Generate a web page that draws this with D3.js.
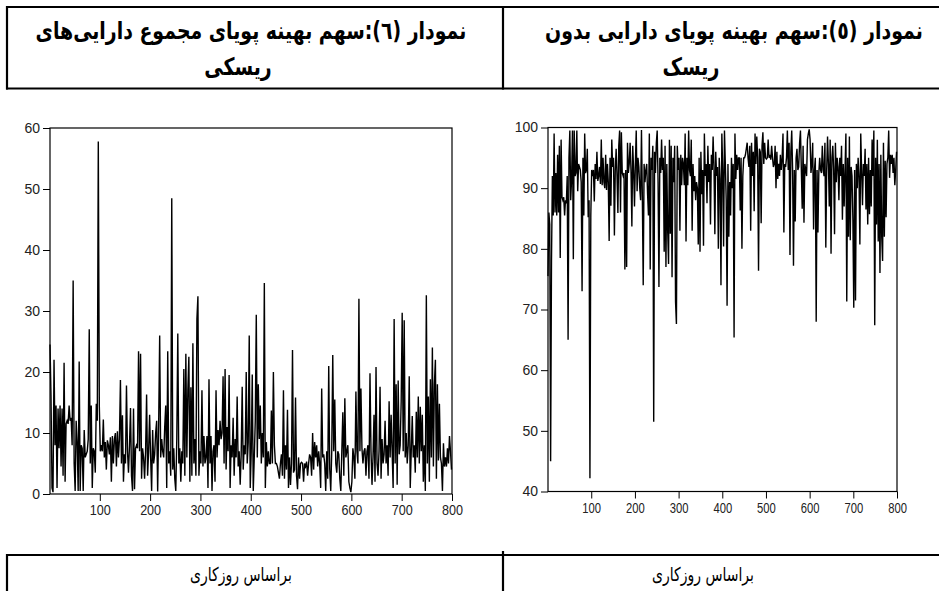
<!DOCTYPE html>
<html>
<head>
<meta charset="utf-8">
<script src="https://cdn.jsdelivr.net/npm/d3@7"></script>
<style>
  body { margin: 0; background: #fff; }
  .tick text { font-family: "Liberation Sans", Arial, sans-serif; fill: #222; }
  .fa { font-family: "DejaVu Sans", "Noto Sans", sans-serif; direction: rtl; }
</style>
</head>
<body>
<div id="chart"></div>
<script>
var svgWidth = 939;
var svgHeight = 591;

// observation numbers (every other trading day)
var days = d3.range(1, 800, 2);

// chart 6: dynamic optimal share of total risky assets (%)
var riskyShare = [
  24.5, 16, 1, 0.3, 22, 8, 14.5, 1, 14, 7.5,
  14.5, 4.5, 14, 3, 21.5, 2, 11.5, 12, 11.5, 14.5,
  12, 12.5, 8, 35, 5, 0.5, 12, 8.5, 0.5, 21.7,
  0.5, 8, 7.5, 0.5, 10.5, 6, 6.5, 7, 9, 27,
  5, 14.5, 1, 7.5, 7, 3.5, 14.8, 12, 57.8, 14.5,
  7, 8, 7, 12.2, 6, 8.5, 4, 8.8, 8, 6.5,
  9.3, 2, 9.5, 5, 9, 10, 4.5, 10.3, 6, 9,
  18.7, 5, 12.9, 2, 6.5, 5, 17.8, 7, 3.5, 8,
  14.1, 3, 0.5, 14, 0.8, 7.5, 8, 7.5, 23.4, 7,
  23, 2.5, 7.5, 6, 2.5, 7, 16.3, 3, 7, 13,
  6, 0.5, 10.5, 5, 6.5, 10, 12, 0.4, 11.5, 26,
  6, 9, 7, 6, 11, 14.5, 1, 23.4, 5, 7,
  3, 48.5, 4, 7.5, 2.5, 0.5, 9, 26.3, 5, 7.5,
  2, 7, 5, 20.5, 3, 23, 6, 17, 22.5, 2,
  17.5, 3, 24.7, 5, 9, 3, 28.7, 32.4, 3, 7,
  5, 17, 4.5, 9.5, 5, 6, 9.5, 1, 18.8, 5,
  9.5, 0.5, 7, 8, 2, 17, 6, 10.5, 8, 12,
  9, 10, 19.3, 5, 20.5, 4, 11, 7, 19.5, 1,
  8, 6, 12.5, 3, 9, 6, 16, 4.5, 7, 1.5,
  6.5, 17.6, 4, 8, 6.5, 20, 5, 8.5, 26, 1,
  7, 19.6, 0.5, 6, 12, 29.4, 6, 18, 9, 14.5,
  5, 10, 6, 34.6, 1, 8.5, 4.5, 7, 5, 5,
  13.7, 5, 20, 8, 5, 5, 4.5, 3.5, 2.5, 5,
  6.5, 3, 17, 2.5, 8, 4, 13.8, 1, 6, 1.5,
  5, 23.6, 3.5, 4, 15.8, 3, 0.8, 6, 2.5, 5,
  5.2, 5, 2, 5, 4.5, 5.3, 3, 5, 6.5, 6,
  3, 10, 4, 8.5, 6, 8, 4.5, 7, 5, 1,
  17.3, 6, 6.5, 5, 0.5, 7, 2.5, 21, 4, 0.5,
  7, 22.8, 7, 15.5, 5, 3.5, 7, 6.5, 2.5, 0.5,
  7, 13.4, 3, 15.7, 6, 7, 8, 2, 1, 0.3,
  2, 7.5, 6, 2.5, 16.8, 7, 5, 32, 7, 17.3,
  7.5, 5, 7, 7.5, 3, 7, 8, 2.5, 19.8, 7,
  1.5, 6, 13, 2, 20.8, 5, 3, 7, 17.6, 2.5,
  9, 5, 6.5, 12, 5, 8, 3, 15.2, 6, 13,
  7, 1, 28.7, 5, 18, 1.5, 18.6, 6.5, 8, 15.2,
  29.7, 7, 28.5, 6, 10, 5, 8, 19.3, 1, 7,
  12.8, 6, 8, 3.5, 13.5, 6, 16, 5, 14.3, 7,
  13, 2, 8, 0.5, 32.6, 5, 16, 2, 18.8, 6,
  24, 4.5, 18, 22, 2.5, 18, 5.5, 14.8, 6, 5,
  0.5, 8.3, 4.5, 6, 4.5, 7.5, 5, 9.5, 7, 4
];

// chart 5: dynamic optimal share of the risk-free asset (%)
var riskFreeShare = [
  75.5, 86, 84, 45, 78, 92, 85.5, 99, 86, 92.5,
  85.5, 95.5, 86, 97, 78.5, 98, 88.5, 88, 88.5, 85.5,
  88, 87.5, 92, 65, 95, 99.5, 88, 91.5, 99.5, 78.3,
  99.5, 92, 92.5, 99.5, 89.5, 94, 93.5, 93, 91, 73,
  95, 85.5, 99, 92.5, 93, 96.5, 85.2, 88, 42.2, 85.5,
  93, 92, 93, 87.8, 94, 91.5, 96, 91.2, 92, 93.5,
  90.7, 98, 90.5, 95, 91, 90, 95.5, 89.7, 94, 91,
  81.3, 95, 87.1, 98, 93.5, 95, 82.2, 93, 96.5, 92,
  85.9, 97, 99.5, 86, 99.2, 92.5, 92, 92.5, 76.6, 93,
  77, 97.5, 92.5, 94, 97.5, 93, 83.7, 97, 93, 87,
  94, 99.5, 89.5, 95, 93.5, 90, 88, 99.6, 88.5, 74,
  94, 91, 93, 94, 89, 85.5, 99, 76.6, 95, 93,
  97, 51.5, 96, 92.5, 97.5, 99.5, 91, 73.7, 95, 92.5,
  98, 93, 95, 79.5, 97, 77, 94, 83, 77.5, 98,
  82.5, 97, 75.3, 95, 91, 97, 71.3, 67.6, 97, 93,
  95, 83, 95.5, 90.5, 95, 94, 90.5, 99, 81.2, 95,
  90.5, 99.5, 93, 92, 98, 83, 94, 89.5, 92, 88,
  91, 90, 80.7, 95, 79.5, 96, 89, 93, 80.5, 99,
  92, 94, 87.5, 97, 91, 94, 84, 95.5, 93, 98.5,
  93.5, 82.4, 96, 92, 93.5, 80, 95, 91.5, 74, 99,
  93, 80.4, 99.5, 94, 88, 70.6, 94, 82, 91, 85.5,
  95, 90, 94, 65.4, 99, 91.5, 95.5, 93, 95, 95,
  86.3, 95, 80, 92, 95, 95, 95.5, 96.5, 97.5, 95,
  93.5, 97, 83, 97.5, 92, 96, 86.2, 99, 94, 98.5,
  95, 76.4, 96.5, 96, 84.2, 97, 99.2, 94, 97.5, 95,
  94.8, 95, 98, 95, 95.5, 94.7, 97, 95, 93.5, 94,
  97, 90, 96, 91.5, 94, 92, 95.5, 93, 95, 99,
  82.7, 94, 93.5, 95, 99.5, 93, 97.5, 79, 96, 99.5,
  93, 77.2, 93, 84.5, 95, 96.5, 93, 93.5, 97.5, 99.5,
  93, 86.6, 97, 84.3, 94, 93, 92, 98, 99, 99.7,
  98, 92.5, 94, 97.5, 83.2, 93, 95, 68, 93, 82.7,
  92.5, 95, 93, 92.5, 97, 93, 92, 97.5, 80.2, 93,
  98.5, 94, 87, 98, 79.2, 95, 97, 93, 82.4, 97.5,
  91, 95, 93.5, 88, 95, 92, 97, 84.8, 94, 87,
  93, 99, 71.3, 95, 82, 98.5, 81.4, 93.5, 92, 84.8,
  70.3, 93, 71.5, 94, 90, 95, 92, 80.7, 99, 93,
  87.2, 94, 92, 96.5, 86.5, 94, 84, 95, 85.7, 93,
  87, 98, 92, 99.5, 67.4, 95, 84, 98, 81.2, 94,
  76, 95.5, 82, 78, 97.5, 82, 94.5, 85.2, 94, 95,
  99.5, 91.7, 95.5, 94, 95.5, 92.5, 95, 90.5, 93, 96
];

var xTicks = [100, 200, 300, 400, 500, 600, 700, 800];
var riskyTicks = [0, 10, 20, 30, 40, 50, 60];
var riskFreeTicks = [40, 50, 60, 70, 80, 90, 100];

var titleRisky = ["نمودار (٦):سهم بهینه پویای مجموع دارایی‌های", "ریسکی"];
var titleRiskFree = ["نمودار (٥):سهم بهینه پویای دارایی بدون", "ریسک"];
var footer = "براساس روزکاری";

var svg = d3.select("#chart")
  .append("svg")
  .attr("width", svgWidth)
  .attr("height", svgHeight)
  .style("background", "#fff");

// table borders round the titles and the footers
var border = svg.append("g")
  .attr("stroke", "#000")
  .attr("stroke-width", 2.2)
  .attr("fill", "none");

border.append("line").attr("x1", 6).attr("x2", 939).attr("y1", 7).attr("y2", 7);
border.append("line").attr("x1", 6).attr("x2", 939).attr("y1", 88.5).attr("y2", 88.5);
border.append("line").attr("x1", 7).attr("x2", 7).attr("y1", 6).attr("y2", 89.5);
border.append("line").attr("x1", 503).attr("x2", 503).attr("y1", 6).attr("y2", 89.5);
border.append("line").attr("x1", 6).attr("x2", 939).attr("y1", 555).attr("y2", 555);
border.append("line").attr("x1", 7).attr("x2", 7).attr("y1", 554).attr("y2", 591);
border.append("line").attr("x1", 503).attr("x2", 503).attr("y1", 551).attr("y2", 591);

// two-line bold title, first line squeezed to the width it takes in the table
function drawTitle(lines, cx1, width1, cx2) {
  var first = svg.append("text")
    .attr("class", "fa")
    .attr("text-anchor", "middle")
    .attr("font-size", 24)
    .attr("font-weight", "bold")
    .attr("fill", "#000")
    .text(lines[0]);
  var s = width1 / first.node().getComputedTextLength();
  first.attr("transform", "translate(" + cx1 + ",39) scale(" + s + ",1)");

  svg.append("text")
    .attr("class", "fa")
    .attr("text-anchor", "middle")
    .attr("font-size", 24)
    .attr("font-weight", "bold")
    .attr("fill", "#000")
    .attr("transform", "translate(" + cx2 + ",75) scale(" + s + ",1)")
    .text(lines[1]);
}
drawTitle(titleRisky, 251, 431, 238);
drawTitle(titleRiskFree, 734, 378, 691);

function drawFooter(cx) {
  var t = svg.append("text").attr("class", "fa")
    .attr("text-anchor", "middle").attr("font-size", 19)
    .text(footer);
  var s = 102 / t.node().getComputedTextLength();
  t.attr("transform", "translate(" + cx + ",581) scale(" + s + ",1)");
}
drawFooter(241);
drawFooter(703);

// one framed line panel
function drawPanel(values, box, yDomain, yTicks, xLabelScale, xLabelSize) {
  var x = d3.scaleLinear().domain([1, 800]).range([box.left, box.right]);
  var y = d3.scaleLinear().domain(yDomain).range([box.bottom, box.top]);

  var g = svg.append("g");

  var line = d3.line()
    .x(function(d, i) { return x(days[i]); })
    .y(function(d) { return y(d); });

  g.append("path")
    .datum(values)
    .attr("fill", "none")
    .attr("stroke", "#000")
    .attr("stroke-width", 1.4)
    .attr("stroke-linejoin", "miter")
    .attr("d", line);

  // frame
  g.append("rect")
    .attr("x", box.left).attr("y", box.top)
    .attr("width", box.right - box.left).attr("height", box.bottom - box.top)
    .attr("fill", "none").attr("stroke", "#000").attr("stroke-width", 1.2);

  var xAxis = g.append("g")
    .attr("transform", "translate(0," + box.bottom + ")")
    .call(d3.axisBottom(x).tickValues(xTicks).tickSize(7).tickPadding(4));
  xAxis.select(".domain").remove();
  xAxis.selectAll("text")
    .attr("font-size", xLabelSize)
    .attr("transform", "scale(" + xLabelScale + ",1)");

  var yAxis = g.append("g")
    .attr("transform", "translate(" + box.left + ",0)")
    .call(d3.axisLeft(y).tickValues(yTicks).tickSize(7).tickPadding(3));
  yAxis.select(".domain").remove();
  yAxis.selectAll("text").attr("font-size", 14);

  g.selectAll(".tick line").attr("stroke", "#000");
}

drawPanel(riskyShare, {left: 50, right: 452, top: 128, bottom: 494}, [0, 60], riskyTicks, 0.9, 14);
drawPanel(riskFreeShare, {left: 548, right: 897, top: 127.5, bottom: 491.5}, [40, 100], riskFreeTicks, 0.75, 15);
</script>
</body>
</html>
